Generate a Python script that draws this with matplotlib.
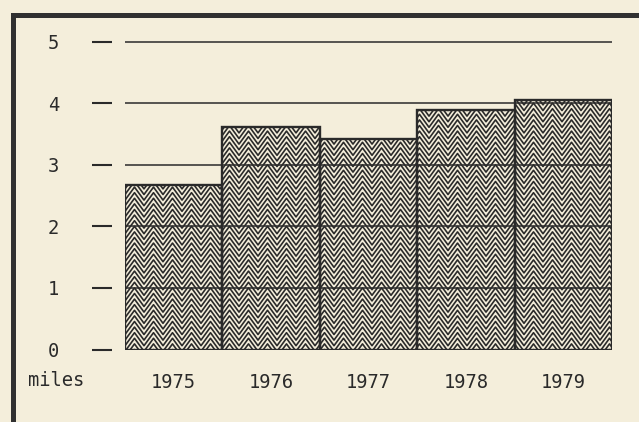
import numpy as np
import matplotlib
matplotlib.use("Agg")
import matplotlib.pyplot as plt
from matplotlib.patches import Rectangle
from matplotlib.collections import LineCollection
from matplotlib.transforms import IdentityTransform

# ---- data ----
years = ["1975", "1976", "1977", "1978", "1979"]
miles = [2.67, 3.61, 3.42, 3.89, 4.05]
yticks = [0, 1, 2, 3, 4, 5]
ylabel = "miles"

BG = "#f4eedb"
INK = "#2a2a2a"

# chevron texture (pixels)
PERIOD = 19.0
ROWSTEP = 5.6
AMP = 13.0

plt.rcParams['font.family'] = ['DejaVu Sans Mono']

W, H = 639, 422
fig = plt.figure(figsize=(W / 100, H / 100), dpi=100, facecolor=BG)

ax_left, ax_right = 125 / W, 612 / W
y0_px, y5_px = 349.5, 41.7
ax = fig.add_axes([ax_left, (H - y0_px) / H, ax_right - ax_left, (y0_px - y5_px) / H])
ax.set_facecolor(BG)

x = np.arange(len(years))
ax.set_xlim(-0.5, len(years) - 0.5)
ax.set_ylim(0, 5)

bars = ax.bar(x, miles, width=1.0, facecolor=BG, edgecolor='none', zorder=2)

# chevron fill, clipped to each bar
origin_x = ax.transData.transform((-0.5, 0))[0]
for rect in bars:
    (px0, py0), (px1, py1) = ax.transData.transform(
        [[rect.get_x(), rect.get_y()],
         [rect.get_x() + rect.get_width(), rect.get_y() + rect.get_height()]])
    k0 = int(np.floor((px0 - origin_x) / (PERIOD / 2))) - 1
    k1 = int(np.ceil((px1 - origin_x) / (PERIOD / 2))) + 1
    ks = np.arange(k0, k1 + 1)
    xs = origin_x + ks * PERIOD / 2
    yoff = np.where(ks % 2 == 1, AMP, 0.0)
    segs = []
    yb = py0 - AMP - ROWSTEP
    while yb < py1 + ROWSTEP:
        segs.append(np.column_stack([xs, yb + yoff]))
        yb += ROWSTEP
    lc = LineCollection(segs, colors=INK, linewidths=1.2,
                        transform=IdentityTransform(), zorder=2.2)
    ax.add_collection(lc, autolim=False)
    lc.set_clip_path(rect)

ax.bar(x, miles, width=1.0, fill=False, edgecolor=INK, linewidth=1.7, zorder=3)

# horizontal rules
ax.hlines(yticks[1:], -0.5, len(years) - 0.5, colors=INK, linewidth=1.1, zorder=3,
          clip_on=False)

ax.set_xlim(-0.5, len(years) - 0.5)
ax.set_ylim(0, 5)

for s in ax.spines.values():
    s.set_visible(False)

ax.spines['left'].set_position(('outward', 9.4))
ax.set_yticks(yticks)
ax.set_yticklabels([str(v) for v in yticks])
ax.tick_params(axis='y', direction='out', length=14.1, width=1.5, color=INK,
               pad=24, labelsize=13.5, labelcolor=INK)

ax.set_xticks(x)
ax.set_xticklabels(years)
ax.tick_params(axis='x', length=0, pad=17, labelsize=13.5, labelcolor=INK)

fig.text(28 / W, 1 - 381 / H, ylabel, ha='left', va='center', fontsize=13.5,
         color=INK)

# outer frame
frame = Rectangle((12.5 / W, -0.2), 1.2, 1 - 15 / H + 0.2, transform=fig.transFigure,
                  fill=False, edgecolor="#303030", linewidth=3.6, clip_on=False)
fig.patches.append(frame)

fig.savefig("out.png", dpi=100, facecolor=BG)
